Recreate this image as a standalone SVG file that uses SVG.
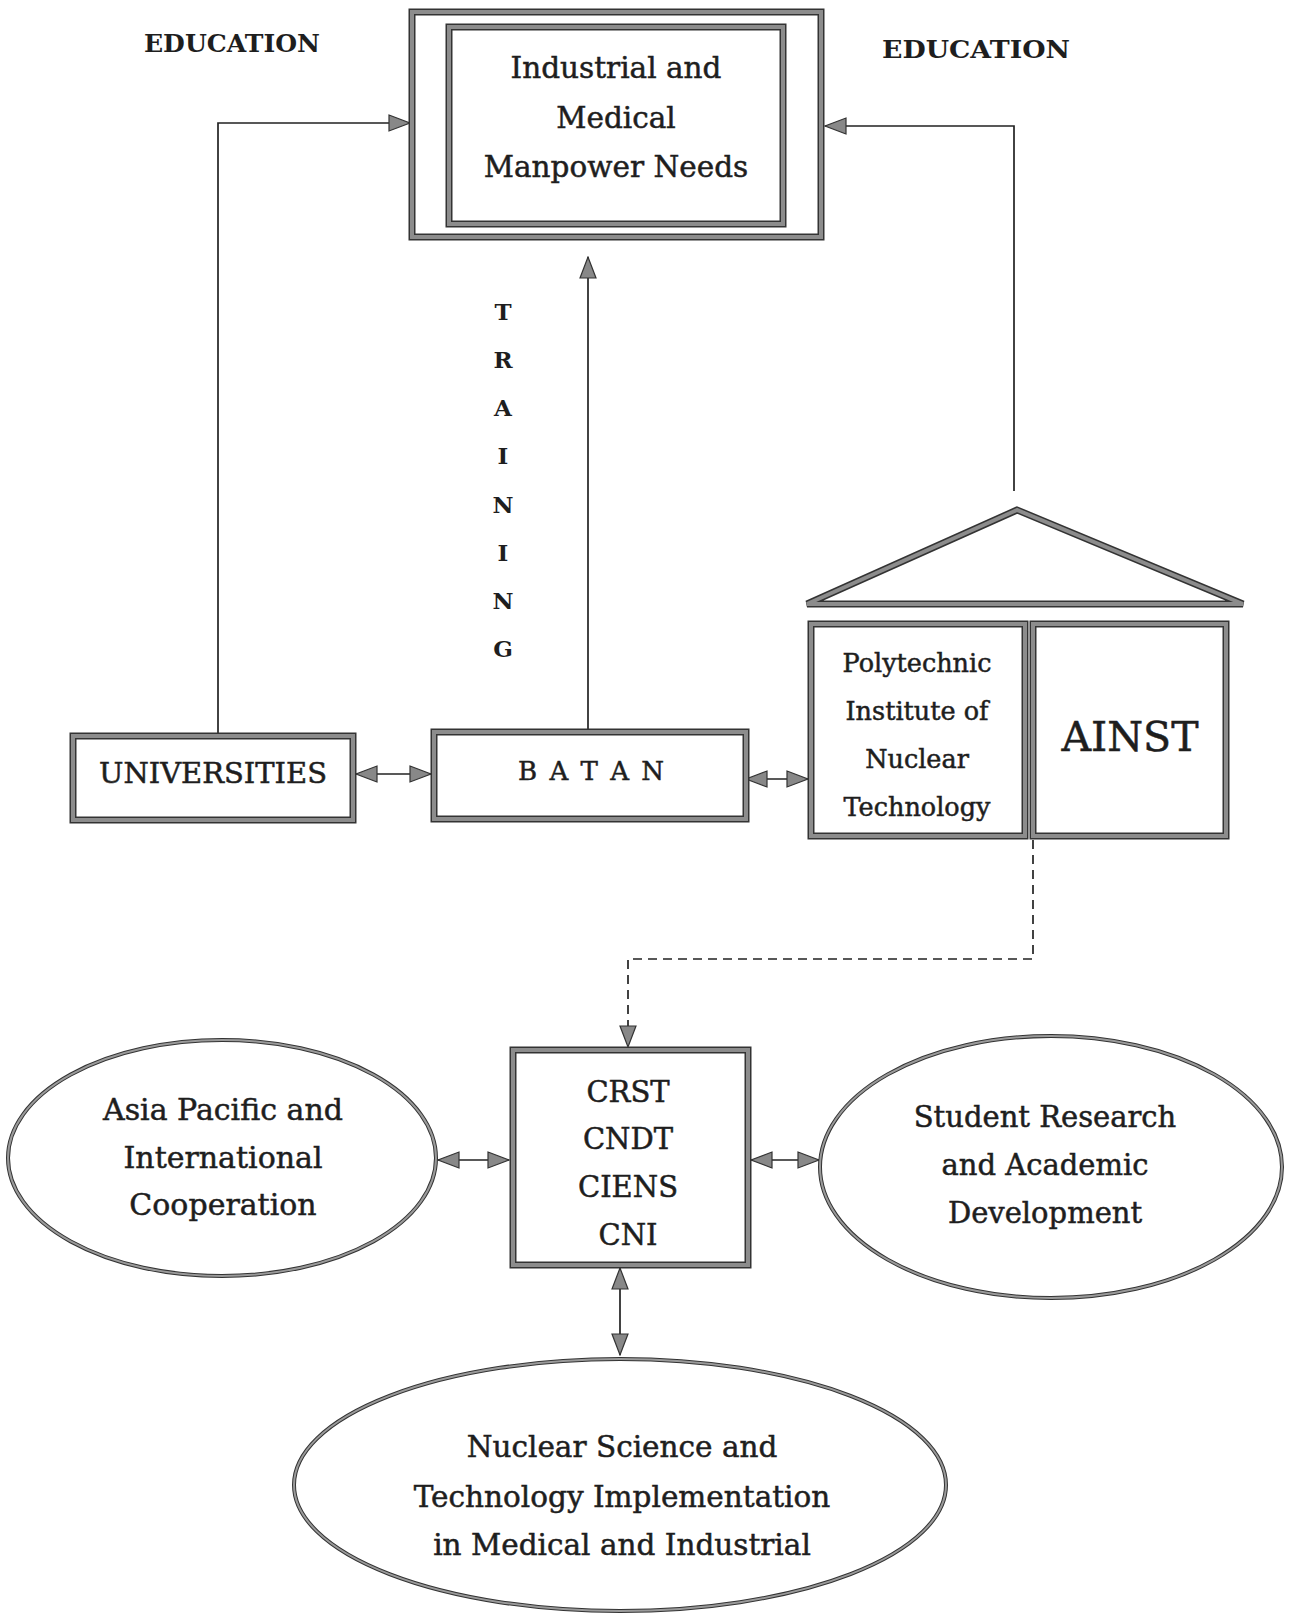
<svg xmlns="http://www.w3.org/2000/svg" width="1290" height="1614" viewBox="0 0 1290 1614">
<defs>
<style>
.bo{fill:#fff;stroke:#333;stroke-width:7}
.bi{fill:none;stroke:#8c8c8c;stroke-width:4}
.eo{fill:#fff;stroke:#333;stroke-width:4}
.ei{fill:none;stroke:#9a9a9a;stroke-width:2}
.ln{fill:none;stroke:#222;stroke-width:1.7}
.dl{fill:none;stroke:#222;stroke-width:1.7;stroke-dasharray:9 6}
.t{font-family:"DejaVu Serif","Liberation Serif",serif;fill:#1e1e1e;stroke:#1e1e1e;stroke-width:0.5;text-anchor:middle}
.tb{font-family:"DejaVu Serif","Liberation Serif",serif;fill:#1e1e1e;text-anchor:middle;font-weight:bold}
</style>
<marker id="ah" markerUnits="userSpaceOnUse" viewBox="-1 -1 23 18" markerWidth="23" markerHeight="18" refX="21" refY="8" orient="auto-start-reverse">
<path d="M0,0 L21,8 L0,16 z" fill="#888" stroke="#333" stroke-width="1.2"/>
</marker>
</defs>

<g id="connectors">
<path class="ln" d="M218,734 V123 H410" marker-end="url(#ah)"/>
<path class="ln" d="M1014,491 V126 H825" marker-end="url(#ah)"/>
<path class="ln" d="M588,729 V257" marker-end="url(#ah)"/>
<path class="ln" d="M356,774 H431" marker-start="url(#ah)" marker-end="url(#ah)"/>
<path class="ln" d="M746,779 H808" marker-start="url(#ah)" marker-end="url(#ah)"/>
<path class="dl" d="M1033,840 V959 H628 V1047" marker-end="url(#ah)"/>
<path class="ln" d="M438,1160 H509" marker-start="url(#ah)" marker-end="url(#ah)"/>
<path class="ln" d="M751,1160 H819" marker-start="url(#ah)" marker-end="url(#ah)"/>
<path class="ln" d="M620,1268 V1355" marker-start="url(#ah)" marker-end="url(#ah)"/>
</g>

<g id="label-education-left"><text class="tb" x="232" y="52" font-size="24" textLength="176" lengthAdjust="spacingAndGlyphs">EDUCATION</text></g>
<g id="label-education-right"><text class="tb" x="976" y="58" font-size="24" textLength="188" lengthAdjust="spacingAndGlyphs">EDUCATION</text></g>
<g id="label-training">
<text class="tb" x="503" y="320" font-size="23">T</text>
<text class="tb" x="503" y="368" font-size="23">R</text>
<text class="tb" x="503" y="416" font-size="23">A</text>
<text class="tb" x="503" y="464" font-size="23">I</text>
<text class="tb" x="503" y="513" font-size="23">N</text>
<text class="tb" x="503" y="561" font-size="23">I</text>
<text class="tb" x="503" y="609" font-size="23">N</text>
<text class="tb" x="503" y="657" font-size="23">G</text>
</g>

<g id="node-needs">
<rect class="bo" x="412" y="12" width="409" height="225"/>
<rect class="bi" x="412" y="12" width="409" height="225"/>
<rect class="bo" x="449" y="27" width="334" height="197"/>
<rect class="bi" x="449" y="27" width="334" height="197"/>
<text class="t" x="616" y="78" font-size="29.5">Industrial and</text>
<text class="t" x="616" y="128" font-size="29.5">Medical</text>
<text class="t" x="616" y="177" font-size="29.5">Manpower Needs</text>
</g>

<g id="node-universities">
<rect class="bo" x="73" y="736" width="280" height="84"/>
<rect class="bi" x="73" y="736" width="280" height="84"/>
<text class="t" x="213" y="783" font-size="27" stroke-width="0.9" textLength="228" lengthAdjust="spacingAndGlyphs">UNIVERSITIES</text>
</g>

<g id="node-batan">
<rect class="bo" x="434" y="732" width="312" height="87"/>
<rect class="bi" x="434" y="732" width="312" height="87"/>
<text class="t" x="591" y="780" font-size="26" textLength="146">B A T A N</text>
</g>

<g id="node-roof">
<polygon class="bo" points="1017,510 807,604 1243,604" stroke-linejoin="miter"/>
<polygon class="bi" points="1017,510 807,604 1243,604" stroke-linejoin="miter"/>
</g>

<g id="node-polytechnic">
<rect class="bo" x="811" y="624" width="214" height="212"/>
<rect class="bi" x="811" y="624" width="214" height="212"/>
<text class="t" x="917" y="672" font-size="25.5">Polytechnic</text>
<text class="t" x="917" y="720" font-size="25.5">Institute of</text>
<text class="t" x="917" y="768" font-size="25.5">Nuclear</text>
<text class="t" x="917" y="816" font-size="25.5">Technology</text>
</g>

<g id="node-ainst">
<rect class="bo" x="1033" y="624" width="193" height="212"/>
<rect class="bi" x="1033" y="624" width="193" height="212"/>
<text class="t" x="1130" y="751" font-size="41">AINST</text>
</g>

<g id="node-centers">
<rect class="bo" x="513" y="1050" width="235" height="215"/>
<rect class="bi" x="513" y="1050" width="235" height="215"/>
<text class="t" x="628" y="1102" font-size="29">CRST</text>
<text class="t" x="628" y="1149" font-size="29">CNDT</text>
<text class="t" x="628" y="1197" font-size="29">CIENS</text>
<text class="t" x="628" y="1245" font-size="29">CNI</text>
</g>

<g id="node-asia">
<ellipse class="eo" cx="222" cy="1158" rx="214" ry="118"/>
<ellipse class="ei" cx="222" cy="1158" rx="214" ry="118"/>
<text class="t" x="223" y="1120" font-size="30">Asia Pacific and</text>
<text class="t" x="223" y="1168" font-size="30">International</text>
<text class="t" x="223" y="1215" font-size="30">Cooperation</text>
</g>

<g id="node-student">
<ellipse class="eo" cx="1051" cy="1167" rx="231" ry="131"/>
<ellipse class="ei" cx="1051" cy="1167" rx="231" ry="131"/>
<text class="t" x="1045" y="1127" font-size="29">Student Research</text>
<text class="t" x="1045" y="1175" font-size="29">and Academic</text>
<text class="t" x="1045" y="1223" font-size="29">Development</text>
</g>

<g id="node-implementation">
<ellipse class="eo" cx="620" cy="1485" rx="326" ry="126"/>
<ellipse class="ei" cx="620" cy="1485" rx="326" ry="126"/>
<text class="t" x="622" y="1457" font-size="29.5">Nuclear Science and</text>
<text class="t" x="622" y="1507" font-size="29.5">Technology Implementation</text>
<text class="t" x="622" y="1555" font-size="29.5">in Medical and Industrial</text>
</g>
</svg>
